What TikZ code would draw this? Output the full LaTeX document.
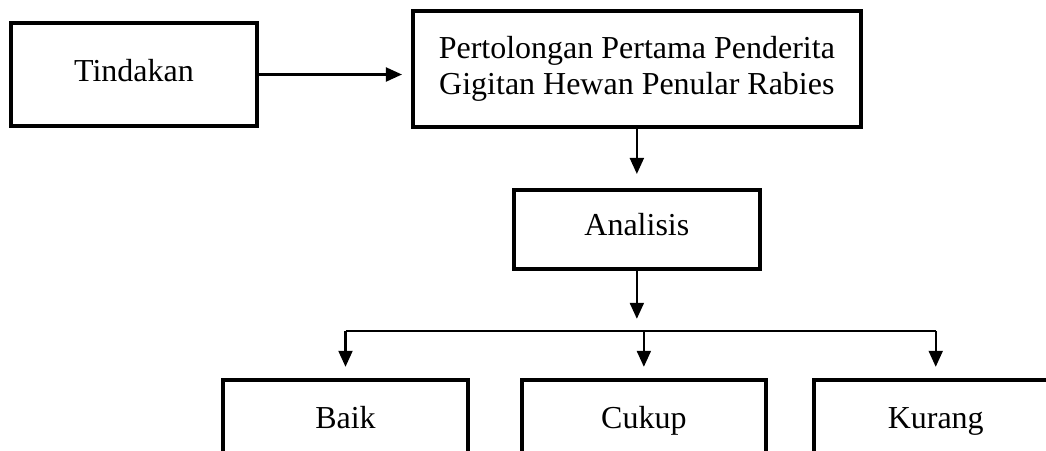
\documentclass[tikz,border=0pt]{standalone}
\usepackage{fontspec}
\setmainfont{Liberation Serif}
\usetikzlibrary{positioning,arrows.meta}
\begin{document}
\begin{tikzpicture}[line width=1.2pt, >={Triangle[length=3.2mm,width=2.8mm]},
	box/.style = {draw, line width=2.2pt, minimum width=4.92cm, minimum height=2.06cm, inner sep=0pt, align=center, text height=0.74em, text depth=0em, font=\fontsize{18.2}{20.5}\selectfont}]
			\useasboundingbox (0,0) rectangle (20.92,-9);
			\clip (0,0) rectangle (20.92,-9);
			\node[box] (t) at (2.68,-1.49) {Tindakan};
			\node[box] (p) [right=3.04cm of t, yshift=1.1mm] [minimum width=8.96cm, minimum height=2.32cm, text height=, text depth=] {Pertolongan Pertama Penderita\\Gigitan Hewan Penular Rabies};
			\node[box] (a) [below=1.18cm of p] [minimum height=1.58cm] {Analisis};
			\node[box] (c) [below=2.14cm of a, xshift=1.4mm] [minimum width=4.88cm, minimum height=1.68cm] {Cukup};
			\node[box] (b) [left=1.0cm of c] [minimum width=4.9cm, minimum height=1.68cm] {Baik};
			\node[box] (k) [right=0.88cm of c] [minimum width=4.88cm, minimum height=1.68cm] {Kurang};
			\coordinate[below=1.2cm of a] (s);
			\coordinate (sb) at (b |- s);
			\coordinate (sc) at (c |- s);
			\coordinate (sk) at (k |- s);
			\draw[->, shorten >=1.8mm] (t) -- (t -| p.west);
			\draw[->, shorten >=2.8mm] (p) -- (a);
			\draw[->, shorten >=2.4mm] (a) -- (s);
			\draw (sb) -- (sk);
			\draw[->, shorten >=2.2mm] (sb) -- (b);
			\draw[->, shorten >=2.2mm] (sc) -- (c);
			\draw[->, shorten >=2.2mm] (sk) -- (k);
\end{tikzpicture}
\end{document}
